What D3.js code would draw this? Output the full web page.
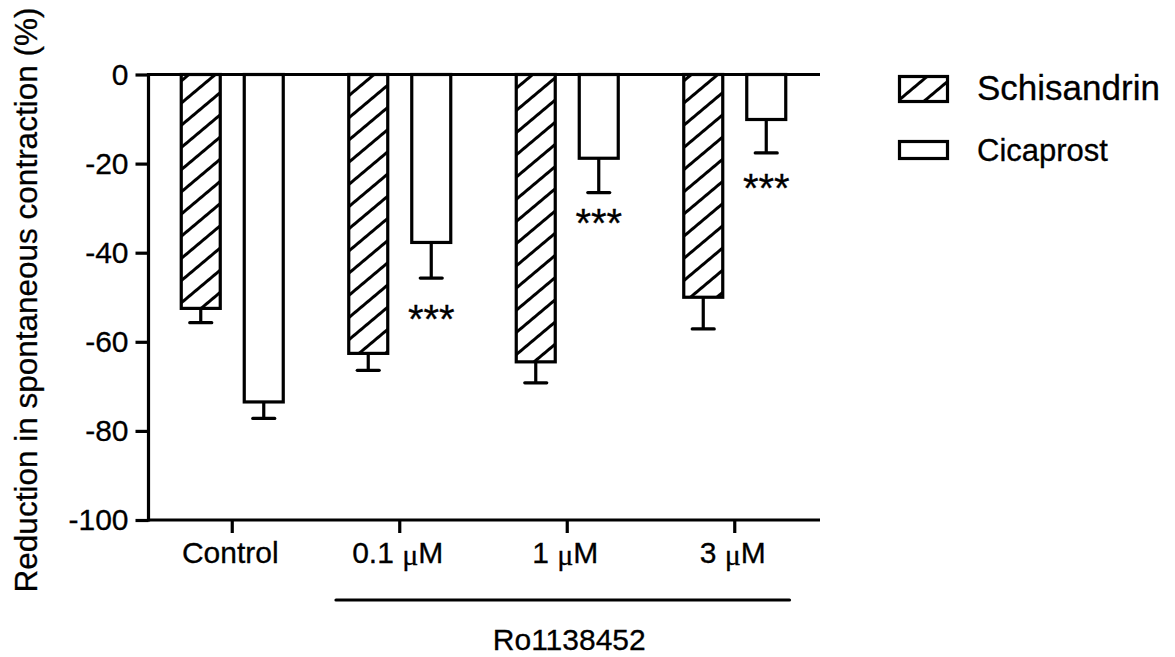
<!DOCTYPE html>
<html><head><meta charset="utf-8">
<script src="https://cdn.jsdelivr.net/npm/d3@7"></script>
<style>
body{margin:0;background:#fff;}
svg text{font-family:"Liberation Sans",Arial,sans-serif;fill:#000;stroke:#000;stroke-width:0.3px;}
</style>
</head><body>
<svg id="chart" width="1175" height="657"></svg>
<script>
// ---- data ----
const categories = ["Control", "0.1 μM", "1 μM", "3 μM"];
const series = ["Schisandrin", "Cicaprost"];
const schisandrinMean = [-52.5, -62.6, -64.5, -50.0];
const schisandrinErr  = [3.2, 3.8, 4.7, 7.1];
const cicaprostMean   = [-73.5, -37.7, -18.8, -10.1];
const cicaprostErr    = [3.7, 8.0, 7.7, 7.5];
const yTicks = [0, -20, -40, -60, -80, -100];
const sigLabels = ["", "***", "***", "***"];
const sigValues = [null, -53.0, -31.6, -23.7];
const groupLabel = "Ro1138452";
const groupCats = ["0.1 μM", "3 μM"];
const yLabel = "Reduction in spontaneous contraction (%)";

(function () {
const svg = d3.select("#chart");
const mLeft = 148.5, mRight = 818.5, mTop = 74.5, mBottom = 520;
const x = d3.scaleBand().domain(categories).range([mLeft, mRight]);
const xs = d3.scaleBand().domain(series).range([-51, 51]).paddingInner(0.381);
const y = d3.scaleLinear().domain([-100, 0]).range([mBottom, mTop]);

const defs = svg.append("defs");
const pat = defs.append("pattern").attr("id", "hatch")
  .attr("patternUnits", "userSpaceOnUse").attr("width", 17).attr("height", 17)
  .attr("patternTransform", "rotate(50)");
pat.append("rect").attr("width", 17).attr("height", 17).attr("fill", "#fff");
pat.append("line").attr("x1", 8.5).attr("y1", -2).attr("x2", 8.5).attr("y2", 19)
  .attr("stroke", "#000").attr("stroke-width", 3);

const fills = {"Schisandrin": "url(#hatch)", "Cicaprost": "#fff"};
const rows = [];
categories.forEach((c, i) => {
  rows.push({cat: c, s: "Schisandrin", v: schisandrinMean[i], e: schisandrinErr[i]});
  rows.push({cat: c, s: "Cicaprost", v: cicaprostMean[i], e: cicaprostErr[i]});
});
const cx = d => x(d.cat) + x.bandwidth() / 2 + xs(d.s) + xs.bandwidth() / 2;

// error bars
const eb = svg.append("g").attr("stroke", "#000").attr("stroke-width", 3.2);
eb.selectAll("line.v").data(rows).join("line").attr("class", "v")
  .attr("x1", cx).attr("x2", cx).attr("y1", d => y(d.v)).attr("y2", d => y(d.v - d.e));
eb.selectAll("line.c").data(rows).join("line").attr("class", "c")
  .attr("stroke-linecap", "round")
  .attr("x1", d => cx(d) - 11).attr("x2", d => cx(d) + 11)
  .attr("y1", d => y(d.v - d.e)).attr("y2", d => y(d.v - d.e));

// bars
svg.append("g").selectAll("rect").data(rows).join("rect")
  .attr("x", d => x(d.cat) + x.bandwidth() / 2 + xs(d.s))
  .attr("width", xs.bandwidth())
  .attr("y", y(0))
  .attr("height", d => y(d.v) - y(0))
  .attr("fill", d => fills[d.s])
  .attr("stroke", "#000").attr("stroke-width", 3.2);

// y axis
const yAxis = svg.append("g").attr("transform", `translate(${mLeft},0)`)
  .call(d3.axisLeft(y).tickValues(yTicks).tickSize(13).tickPadding(7));
yAxis.select(".domain").attr("stroke-width", 3.2).attr("d", `M0,${mTop - 1.5}V${mBottom + 1.5}`);
yAxis.selectAll(".tick line").attr("stroke-width", 3.2);
yAxis.selectAll(".tick text").style("font-size", "30px").text(d => d === 0 ? "0" : "-" + Math.abs(d));

// zero line
svg.append("line").attr("x1", mLeft).attr("x2", mRight + 1.5).attr("y1", y(0)).attr("y2", y(0))
  .attr("stroke", "#000").attr("stroke-width", 3.2);

// x axis
const xAxis = svg.append("g").attr("transform", `translate(0,${mBottom})`)
  .call(d3.axisBottom(x).tickSize(13).tickFormat(""));
xAxis.select(".domain").attr("stroke-width", 3.2).attr("d", `M${mLeft - 1.5},0H${mRight + 1.5}`);
xAxis.selectAll(".tick line").attr("stroke-width", 3.2);
xAxis.selectAll(".tick").append("text")
  .attr("y", 43).attr("text-anchor", "middle").attr("x", -2)
  .style("font-size", "30px")
  .each(function(d) {
    const t = d3.select(this);
    const parts = d.split("μ");
    t.append("tspan").text(parts[0]);
    if (parts.length > 1) {
      t.append("tspan").text("μ").style("font-family", "'Liberation Serif',serif").attr("dy", 2);
      t.append("tspan").text(parts[1]).attr("dy", -2);
    }
  });

// significance
svg.append("g").selectAll("text")
  .data(categories.map((c, i) => ({cat: c, s: "Cicaprost", lab: sigLabels[i], v: sigValues[i]})).filter(d => d.lab))
  .join("text")
  .attr("x", d => cx(d)).attr("y", d => y(d.v) + 22)
  .attr("text-anchor", "middle").style("font-size", "40px").text(d => d.lab);

// group bracket
svg.append("line")
  .attr("x1", x(groupCats[0]) + 20).attr("x2", x(groupCats[1]) + 138.5)
  .attr("y1", 600).attr("y2", 600).attr("stroke", "#000").attr("stroke-width", 3.2).attr("stroke-linecap", "round");
svg.append("text").attr("x", x(categories[2]) + x.bandwidth() / 2 + 2).attr("y", 650)
  .attr("text-anchor", "middle").style("font-size", "30px").text(groupLabel);

// y label
svg.append("text").attr("transform", "translate(37,300) rotate(-90)")
  .attr("text-anchor", "middle").style("font-size", "31.5px").text(yLabel);

// legend
const legend = svg.append("g");
const legBoxes = [{y: 76.5, h: 25, ty: 99.5, fs: 35}, {y: 141.5, h: 17, ty: 161, fs: 31}];
series.forEach((s, i) => {
  legend.append("rect").attr("x", 899.5).attr("y", legBoxes[i].y).attr("width", 48).attr("height", legBoxes[i].h)
    .attr("fill", fills[s]).attr("stroke", "#000").attr("stroke-width", 3.2);
  legend.append("text").attr("x", 977).attr("y", legBoxes[i].ty).style("font-size", legBoxes[i].fs + "px").text(s);
});
})();
</script>
</body></html>
